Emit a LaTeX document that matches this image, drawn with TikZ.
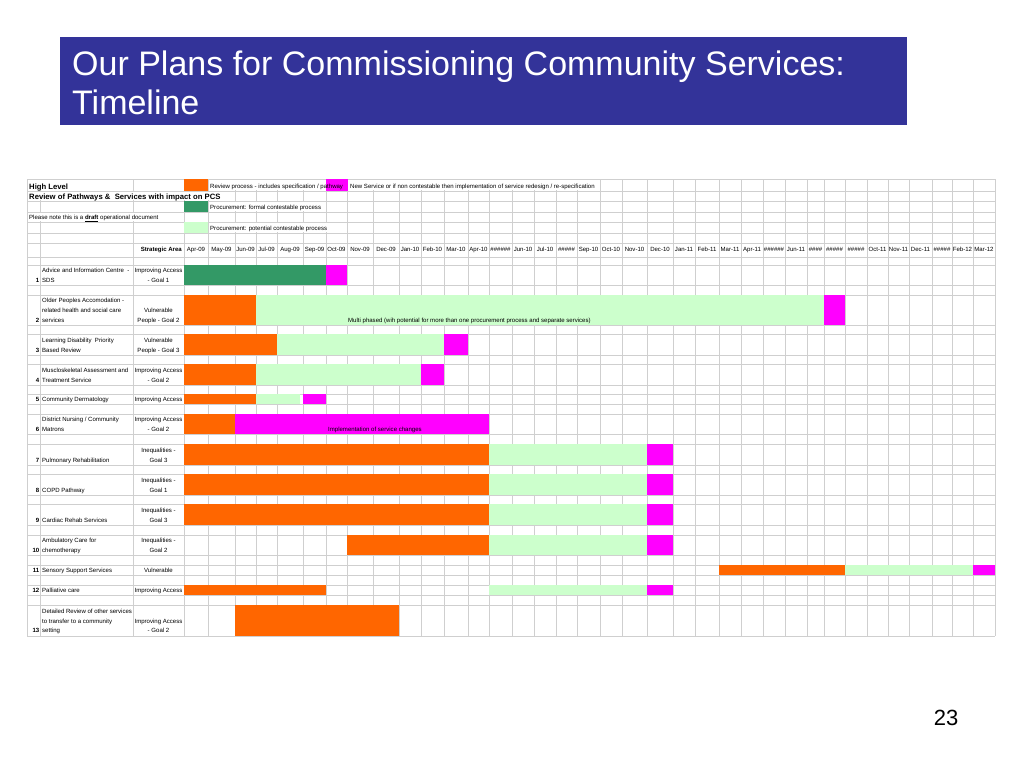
\documentclass[tikz,border=0pt]{standalone}
\usepackage{fontspec}
\setmainfont{Liberation Sans}
\definecolor{review}{HTML}{FF6600}
\definecolor{formal}{HTML}{339966}
\definecolor{potential}{HTML}{CCFFCC}
\definecolor{newservice}{HTML}{FF00FF}
\definecolor{titleblue}{HTML}{333399}
\definecolor{gridgrey}{HTML}{CFCFCF}
\tikzset{
  cell/.style={inner sep=0pt, text depth=0pt, font=\fontsize{6.05}{9.8}\selectfont},
  lcell/.style={cell, anchor=south west, align=left},
  ccell/.style={cell, anchor=south, align=center},
  rcell/.style={cell, anchor=south east, align=right},
  num/.style={rcell, font=\fontsize{6.05}{9.8}\selectfont\bfseries},
  head/.style={inner sep=0pt, anchor=base west, font=\fontsize{7.7}{9}\selectfont\bfseries},
  gridline/.style={gridgrey, line width=0.6pt},
  spill/.style={fill=white}
}
\begin{document}
\begin{tikzpicture}[x=1pt, y=-1pt]
  \useasboundingbox (0,0) rectangle (1024,768);
  % title
  \fill[titleblue] (60,37) rectangle (907,125);
  \node[anchor=base west, inner sep=0pt, text=white, font=\fontsize{34}{40}\selectfont] (title1) at (72,75) {Our Plans for Commissioning Community Services:};
  \node[anchor=base west, inner sep=0pt, text=white, font=\fontsize{34}{40}\selectfont] (title2) at (72,114) {Timeline};
  % grid
  \foreach \x in {27,40.5,133,184,208,235,256,277,303,326,347,373,399,421,444,468,489,512,534,556,577,600,622,647,673,695,719,741,763,785,807,824,845,867,888,909,932,952,973,995}
    \draw[gridline] (\x,179) -- (\x,636);
  \foreach \y in {179,191,201,212,222,233,243,257,265,285,295,325,334,355,364,385,394,404,414,434,444,465,474,495,504,525,535,555,565,575,585,595,605,636}
    \draw[gridline] (27,\y) -- (995,\y);
  \fill[spill] (27.6,179.6) rectangle (132.4,190.4);
  \fill[spill] (208.6,179.6) rectangle (325.4,190.4);
  \fill[spill] (348.6,179.6) rectangle (599.4,190.4);
  \fill[spill] (27.6,191.6) rectangle (234.4,200.4);
  \fill[spill] (208.6,201.6) rectangle (325.4,211.4);
  \fill[spill] (27.6,212.6) rectangle (183.4,221.4);
  \fill[spill] (208.6,222.6) rectangle (346.4,232.4);
  % key
  \fill[review] (184,179) rectangle (208,191);
  \fill[newservice] (326,179) rectangle (348,191);
  \fill[formal] (184,201) rectangle (208,212);
  \fill[potential] (184,222) rectangle (208,233);
  \node[head] (high) at (29,189) {High Level};
  \node[head] (review) at (29,199.5) {Review of Pathways \&\ \ Services with impact on PCS};
  \node[lcell] (note) at (29,219.5) {Please note this is a \underline{\textbf{draft}} operational document};
  \node[lcell] (keyreview) at (210,188.5) {Review process - includes specification / pathway};
  \node[lcell] (keynew) at (350,188.5) {New Service or if non contestable then implementation of service redesign / re-specification};
  \node[lcell] (keyformal) at (210,209.5) {Procurement: formal contestable process};
  \node[lcell] (keypotential) at (210,230.5) {Procurement: potential contestable process};
  % months
  \node[rcell, font=\fontsize{6.05}{9.8}\selectfont\bfseries] (area) at (182,252) {Strategic Area};
  \foreach \m/\a/\b [count=\i] in {Apr-09/184/208, May-09/208/235, Jun-09/235/256, Jul-09/256/277, Aug-09/277/303, Sep-09/303/326, Oct-09/326/347, Nov-09/347/373, Dec-09/373/399, Jan-10/399/421, Feb-10/421/444, Mar-10/444/468, Apr-10/468/489, \#\#\#\#\#\#/489/512, Jun-10/512/534, Jul-10/534/556, \#\#\#\#\#/556/577, Sep-10/577/600, Oct-10/600/622, Nov-10/622/647, Dec-10/647/673, Jan-11/673/695, Feb-11/695/719, Mar-11/719/741, Apr-11/741/763, \#\#\#\#\#\#/763/785, Jun-11/785/807, \#\#\#\#/807/824, \#\#\#\#\#/824/845, \#\#\#\#\#/845/867, Oct-11/867/888, Nov-11/888/909, Dec-11/909/932, \#\#\#\#\#/932/952, Feb-12/952/973, Mar-12/973/995}
    \node[ccell] (mon\i) at ({(\a+\b)/2},252) {\m};
  % bars
  \foreach \c/\xa/\ya/\xb/\yb in {
      formal/184/265/326/285, newservice/326/265/347/285,
      review/184/295/256/325, potential/256/295/824/325, newservice/824/295/845/325,
      review/184/334/277/355, potential/277/334/444/355, newservice/444/334/468/355,
      review/184/364/256/385, potential/256/364/421/385, newservice/421/364/444/385,
      review/184/394/256/404, potential/256/394/300/404, newservice/303/394/326/404,
      review/184/414/235/434, newservice/235/414/489/434,
      review/184/444/489/465, potential/489/444/647/465, newservice/647/444/673/465,
      review/184/474/489/495, potential/489/474/647/495, newservice/647/474/673/495,
      review/184/504/489/525, potential/489/504/647/525, newservice/647/504/673/525,
      review/347/535/489/555, potential/489/535/647/555, newservice/647/535/673/555,
      review/719/565/845/575, potential/845/565/973/575, newservice/973/565/995/575,
      review/184/585/326/595, potential/489/585/647/595, newservice/647/585/673/595,
      review/235/605/399/635.5}
    \fill[\c] (\xa,\ya) rectangle (\xb,\yb);
  \node[lcell] (phased) at (348,322.5) {Multi phased (wih potential for more than one procurement process and separate services)};
  \node[lcell] (implement) at (328,432) {Implementation of service changes};
  % rows
  \node[num] (n1) at (39.5,282.5) {1};
  \node[lcell] (s1) at (42,282.5) {Advice and Information Centre\ \ -\\SDS};
  \node[ccell] (a1) at (158.5,282.5) {Improving Access\\- Goal 1};
  \node[num] (n2) at (39.5,322.5) {2};
  \node[lcell] (s2) at (42,322.5) {Older Peoples Accomodation -\\related health and social care\\services};
  \node[ccell] (a2) at (158.5,322.5) {Vulnerable\\People - Goal 2};
  \node[num] (n3) at (39.5,352.5) {3};
  \node[lcell] (s3) at (42,352.5) {Learning Disability\ \ Priority\\Based Review};
  \node[ccell] (a3) at (158.5,352.5) {Vulnerable\\People - Goal 3};
  \node[num] (n4) at (39.5,382.5) {4};
  \node[lcell] (s4) at (42,382.5) {Muscloskeletal Assessment and\\Treatment Service};
  \node[ccell] (a4) at (158.5,382.5) {Improving Access\\- Goal 2};
  \node[num] (n5) at (39.5,401.8) {5};
  \node[lcell] (s5) at (42,401.8) {Community Dermatology};
  \node[ccell] (a5) at (158.5,401.8) {Improving Access};
  \node[num] (n6) at (39.5,431.8) {6};
  \node[lcell] (s6) at (42,431.8) {District Nursing / Community\\Matrons};
  \node[ccell] (a6) at (158.5,431.8) {Improving Access\\- Goal 2};
  \node[num] (n7) at (39.5,462.5) {7};
  \node[lcell] (s7) at (42,462.5) {Pulmonary Rehabilitation};
  \node[ccell] (a7) at (158.5,462.5) {Inequalities -\\Goal 3};
  \node[num] (n8) at (39.5,492.5) {8};
  \node[lcell] (s8) at (42,492.5) {COPD Pathway};
  \node[ccell] (a8) at (158.5,492.5) {Inequalities -\\Goal 1};
  \node[num] (n9) at (39.5,522.5) {9};
  \node[lcell] (s9) at (42,522.5) {Cardiac Rehab Services};
  \node[ccell] (a9) at (158.5,522.5) {Inequalities -\\Goal 3};
  \node[num] (n10) at (39.5,552.5) {10};
  \node[lcell] (s10) at (42,552.5) {Ambulatory Care for\\chemotherapy};
  \node[ccell] (a10) at (158.5,552.5) {Inequalities -\\Goal 2};
  \node[num] (n11) at (39.5,572.8) {11};
  \node[lcell] (s11) at (42,572.8) {Sensory Support Services};
  \node[ccell] (a11) at (158.5,572.8) {Vulnerable};
  \node[num] (n12) at (39.5,592.8) {12};
  \node[lcell] (s12) at (42,592.8) {Palliative care};
  \node[ccell] (a12) at (158.5,592.8) {Improving Access};
  \node[num] (n13) at (39.5,633) {13};
  \node[lcell] (s13) at (42,633) {Detailed Review of other services\\to transfer to a community\\setting};
  \node[ccell] (a13) at (158.5,633) {Improving Access\\- Goal 2};
  % page number
  \node[anchor=base, inner sep=0pt, font=\fontsize{22}{24}\selectfont] (page) at (946,725) {23};
\end{tikzpicture}
\end{document}
